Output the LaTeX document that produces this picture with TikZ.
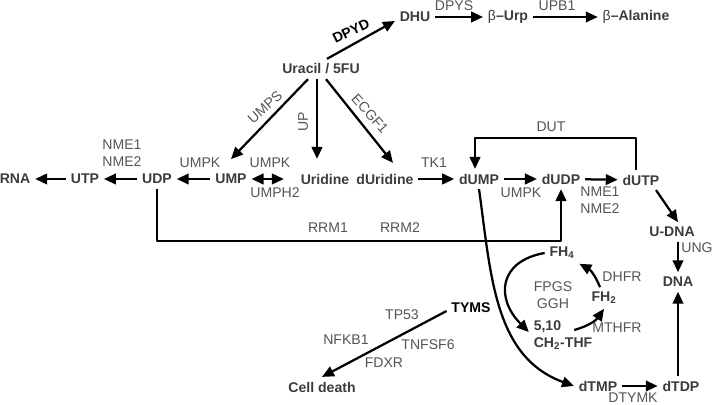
\documentclass[tikz,border=0pt]{standalone}
\usepackage{fontspec}
\setmainfont{Liberation Sans}
\usetikzlibrary{arrows.meta,calc}
\definecolor{molgray}{HTML}{3C3C3C}
\definecolor{enzgray}{HTML}{555555}

\begin{document}
\begin{tikzpicture}[x=0.025cm,y=-0.025cm,line join=round,
		>={Triangle[length=8.5pt,width=7.5pt]},
		mol/.style={font=\bfseries,text=molgray,inner sep=1pt,outer sep=2.5pt},
		enz/.style={text=enzgray,inner sep=1pt,align=center},
		arr/.style={->,line width=1.6pt}]
		\useasboundingbox (0,0) rectangle (714,405);
		\node[mol] (dhu) at (415,17) {DHU};
		\node[mol] (urp) at (508,17) {{\mdseries β}–Urp};
		\node[mol] (ala) at (636,17) {{\mdseries β}–Alanine};
		\node[mol] (ura) at (321,69) {Uracil / 5FU};
		\node[mol] (rna) at (15,179) {RNA};
		\node[mol] (utp) at (85,179) {UTP};
		\node[mol] (udp) at (157,179) {UDP};
		\node[mol] (ump) at (231,179) {UMP};
		\node[mol] (urd) at (325,179) {Uridine};
		\node[mol] (dur) at (385,179) {dUridine};
		\node[mol] (dump) at (479,179) {dUMP};
		\node[mol] (dudp) at (561,179) {dUDP};
		\node[mol] (dutp) at (641,180) {dUTP};
		\node[mol] (udna) at (672,232) {U-DNA};
		\node[mol] (dna) at (678,282) {DNA};
		\node[mol] (fh4) at (562,253) {FH\textsubscript{4}};
		\node[mol] (fh2) at (604,298) {FH\textsubscript{2}};
		\node[mol,align=left] (thf) at (563,335) {5,10\\CH\textsubscript{2}-THF};
		\node[mol] (dtmp) at (598,386) {dTMP};
		\node[mol] (dtdp) at (681,386) {dTDP};
		\node[mol,text=black] (tyms) at (471,308) {TYMS};
		\node[mol] (cell) at (322,387) {Cell death};
		\foreach \x/\y/\t in {454/6/DPYS,557/6/UPB1,122/153/{NME1\\NME2},200/163/UMPK,270/163/UMPK,
			275/193/UMPH2,434/163/TK1,521/193/UMPK,600/200/{NME1\\NME2},551/127/DUT,328/228/RRM1,
			400/228/RRM2,697/248/UNG,553/295/{FPGS\\GGH},622/277/DHFR,617/328/MTHFR,402/315/TP53,
			346/340/NFKB1,428/345/TNFSF6,384/363/FDXR,633/398/DTYMK}
		\node[enz] (lb\x) at (\x,\y) {\t};
		\node[font=\bfseries,rotate=26] (dpyd) at (351,31) {DPYD};
		\node[enz,rotate=42] (umps) at (265,107) {UMPS};
		\node[enz,rotate=90] (up) at (303,122) {UP};
		\node[enz,rotate=-48] (ecgf) at (370,114) {ECGF1};
		\draw[arr] ($(ura.north)+(6,0)$) -- ($(dhu.west)+(0,4)$);
		\draw[arr] (dhu) -- (urp);
		\draw[arr] (urp) -- (ala);
		\draw[arr] ($(ura.south)+(-13,0)$) -- ($(ump.north)+(0,-10)$);
		\draw[arr] ($(ura.south)+(-4,0)$) -- ($(urd.north)+(-8,-10)$);
		\draw[arr] ($(ura.south)+(5,0)$) -- ($(dur.north)+(8,-6)$);
		\draw[arr] (utp) -- (rna);
		\draw[arr] (udp) -- (utp);
		\draw[arr] (ump) -- (udp);
		\draw[arr,<->] (ump.east) -- ($(urd.west)+(-12,0)$);
		\draw[arr] (dur) -- (dump);
		\draw[arr] (dump) -- (dudp);
		\draw[arr] (dudp) -- (dutp);
		\draw[arr] (udp.south) -- ++(0,52) -| (dudp.south);
		\draw[arr] ($(dutp.north)+(-5,0)$) -- ++(0,-32) -| ($(dump.north)+(-4,0)$);
		\draw[arr] ($(dutp.south)+(15,0)$) -- ($(udna.north)+(6,0)$);
		\draw[arr] (udna.south -| dna) -- (dna.north);
		\draw[arr] (dtdp.north -| dna) -- (dna.south);
		\draw[arr] (dtmp) -- (dtdp);
		\draw[arr] (dump.south) to[out=-82,in=160] (dtmp.west);
		\draw[arr] (fh4.west) to[out=190,in=135,looseness=1.5] ($(thf.west)+(0,-3)$);
		\draw[arr] ($(thf.east)+(-23,-5)$) to[bend right=20] (fh2.south);
		\draw[arr] ($(fh2.north)+(-4,0)$) to[bend right=20] (fh4.south east);
		\draw[arr] ($(tyms.west)+(0,3)$) -- (cell.north);
\end{tikzpicture}
\end{document}
